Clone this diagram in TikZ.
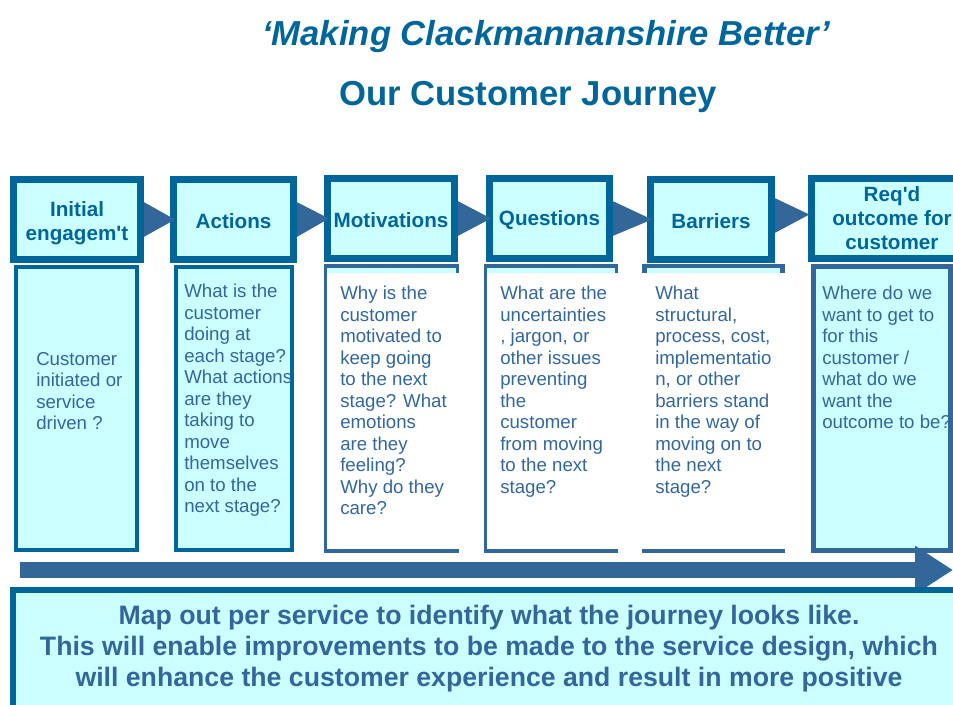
\documentclass[tikz,border=0pt]{standalone}
\usepackage{fontspec}
\setmainfont{Liberation Sans}[Ligatures=TeXOff]
\usepackage{tikz}
\usetikzlibrary{arrows.meta, positioning}
\usepackage{xcolor}

\definecolor{cmHead}{RGB}{0,102,153}
\definecolor{cmLine}{RGB}{51,102,153}
\definecolor{cmFill}{RGB}{204,255,255}

\tikzset{
    titletext/.style={anchor=base, inner sep=0pt, text=cmHead, font=\bfseries\fontsize{26}{30}\selectfont},
    headbox/.style={draw=cmHead, fill=cmFill, line width=5.25pt, inner sep=0pt, align=center, text=cmHead, font=\bfseries\fontsize{15.5}{18}\selectfont},
    bodybox/.style={draw=cmHead, fill=cmFill, line width=3pt, inner sep=0pt},
    bodytext/.style={anchor=north west, inner sep=0pt, align=left, text=cmLine, font=\fontsize{14}{16.1}\selectfont},
    openbox/.style={draw=cmLine, line width=2.5pt},
    steptri/.style={fill=cmLine},
}

\begin{document}
\begin{tikzpicture}[x=0.75pt, y=-0.75pt]

        \useasboundingbox (0,0) rectangle (953,704);

        \clip (0,0) rectangle (953,704);

        % titles
        \node[titletext, font=\bfseries\itshape\fontsize{26}{30}\selectfont] (slogan) at (546,45) {‘Making Clackmannanshire Better’};

        \node[titletext] (journey) at (528,105) {Our Customer Journey};

        % stage headings
        \node[headbox, minimum width=95.25pt, minimum height=60pt, text height=34.5pt] (hInit) at (77,219.5) {Initial\\engagem't};

        \node[headbox, minimum width=90pt, minimum height=60pt, text height=14pt] (hAct) at (233.5,219.5) {Actions};

        \node[headbox, minimum width=95.25pt, minimum height=60pt, text height=14pt] (hMot) at (391,218.5) {Motivations};

        \node[headbox, minimum width=90pt, minimum height=60pt, text height=14pt] (hQue) at (549.5,218.5) {Questions};

        \node[headbox, minimum width=90.75pt, minimum height=60pt, text height=14pt] (hBar) at (711,219.5) {Barriers};

        \node[headbox, minimum width=120.75pt, minimum height=60pt] (hReq) at (892,218.5) {Req'd\\outcome for\\customer};

        % arrows between the headings
        \fill[steptri] ([yshift=13pt]hInit.east) -- ([yshift=-13pt]hInit.east) -- ([xshift=3.75pt]hAct.west) -- cycle;

        \fill[steptri] ([yshift=13pt]hAct.east) -- ([yshift=-13pt]hAct.east) -- ([xshift=3.75pt]hMot.west) -- cycle;

        \fill[steptri] ([yshift=13pt]hMot.east) -- ([yshift=-13pt]hMot.east) -- ([xshift=3.75pt]hQue.west) -- cycle;

        \fill[steptri] ([yshift=13pt]hQue.east) -- ([yshift=-13pt]hQue.east) -- ([xshift=3.75pt]hBar.west) -- cycle;

        \fill[steptri] ([yshift=16pt]hBar.east) -- ([yshift=-10pt]hBar.east) -- ([xshift=1pt,yshift=3pt]hReq.west) -- cycle;

        % columns
        \node[bodybox, minimum width=90.75pt, minimum height=212.25pt] (bInit) at (76.5,408.5) {};

        \node[bodybox, minimum width=87pt, minimum height=212.25pt] (bAct) at (234,408.5) {};

        \node[bodybox, draw=cmLine, line width=3.75pt, minimum width=102.75pt, minimum height=213pt] (bReq) at (882,408.5) {};

        \fill[cmFill] (327,267) rectangle (456,273);
        \draw[openbox] (325.5,273) -- (325.5,266) -- (457.5,266) -- (457.5,273);
        \draw[openbox] (325.5,266) -- (325.5,551) -- (459,551);

        \fill[cmFill] (487,267) rectangle (615,273);
        \draw[openbox] (485.5,273) -- (485.5,266) -- (616.5,266) -- (616.5,273);
        \draw[openbox] (485.5,266) -- (485.5,551) -- (618,551);

        \fill[cmFill] (647,267) rectangle (780,273);
        \draw[openbox, line width=3.5pt] (644.5,273) -- (644.5,266) -- (782.5,266) -- (782.5,273);
        \draw[openbox] (642,551) -- (785,551);

        % column texts
        \node[bodytext] (tInit) at (36,352) {Customer\\initiated or\\service\\driven ?};

        \node[bodytext] (tAct) at (184,284) {What is the\\customer\\doing at\\each stage?\\What actions\\are they\\taking to\\move\\themselves\\on to the\\next stage?};

        \node[bodytext] (tMot) at (340,286) {Why is the\\customer\\motivated to\\keep going\\to the next\\stage? What\\emotions\\are they\\feeling?\\Why do they\\care?};

        \node[bodytext] (tQue) at (500,286) {What are the\\uncertainties\\, jargon, or\\other issues\\preventing\\the\\customer\\from moving\\to the next\\stage?};

        \node[bodytext] (tBar) at (655,286) {What\\structural,\\process, cost,\\implementatio\\n, or other\\barriers stand\\in the way of\\moving on to\\the next\\stage?};

        \node[bodytext] (tReq) at (822,286) {Where do we\\want to get to\\for this\\customer /\\what do we\\want the\\outcome to be?};

        % journey arrow
        \coordinate (flowS) at (20,570);

        \coordinate (flowE) at (953,570);

        \draw[cmLine, line width=12pt, -{Triangle[length=28.5pt, width=34.5pt]}] (flowS) -- (flowE);

        % summary
        \draw[draw=cmHead, fill=cmFill, line width=4.5pt] (13,590) rectangle (1000,760);

        \node[anchor=north, inner sep=0pt, align=center, text=cmLine, font=\bfseries\fontsize{20}{23.25}\selectfont] (summary) at (489,605) {Map out per service to identify what the journey looks like.\\This will enable improvements to be made to the service design, which\\will enhance the customer experience and result in more positive};

\end{tikzpicture}
\end{document}
